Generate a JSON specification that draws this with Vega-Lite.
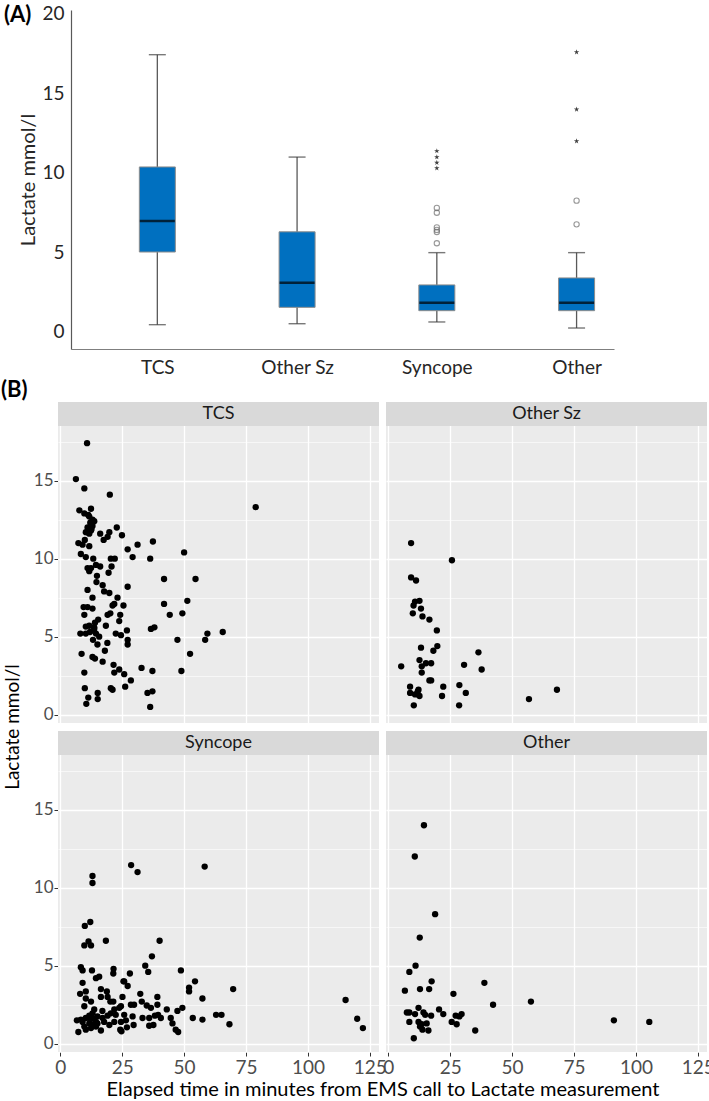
{
  "$schema": "https://vega.github.io/schema/vega-lite/v6.json",
  "padding": {"left": 0, "top": 3, "right": 0, "bottom": 0},
  "config": {"font": "Lato", "view": {"stroke": null}},
  "spacing": 2,
  "datasets": {
    "box": [
      {"pos": 1, "lo": 0.46, "q1": 5.03, "med": 6.98, "q3": 10.38, "hi": 17.44},
      {"pos": 2, "lo": 0.52, "q1": 1.55, "med": 3.1, "q3": 6.3, "hi": 11.0},
      {"pos": 3, "lo": 0.63, "q1": 1.34, "med": 1.84, "q3": 2.96, "hi": 4.99},
      {"pos": 4, "lo": 0.25, "q1": 1.34, "med": 1.84, "q3": 3.4, "hi": 4.99}
    ],
    "out": [
      {"pos": 3, "v": 5.58, "kind": "circle"}, {"pos": 3, "v": 6.29, "kind": "circle"}, {"pos": 3, "v": 6.42, "kind": "circle"},
      {"pos": 3, "v": 6.58, "kind": "circle"}, {"pos": 3, "v": 7.5, "kind": "circle"}, {"pos": 3, "v": 7.8, "kind": "circle"},
      {"pos": 3, "v": 10.3, "kind": "star"}, {"pos": 3, "v": 10.65, "kind": "star"}, {"pos": 3, "v": 11.0, "kind": "star"}, {"pos": 3, "v": 11.38, "kind": "star"},
      {"pos": 4, "v": 6.77, "kind": "circle"}, {"pos": 4, "v": 8.26, "kind": "circle"},
      {"pos": 4, "v": 12.0, "kind": "star"}, {"pos": 4, "v": 14.0, "kind": "star"}, {"pos": 4, "v": 17.6, "kind": "star"}
    ],
    "strips": [
      {"g": "TCS", "r": "r1", "c": "c1"}, {"g": "Other Sz", "r": "r1", "c": "c2"}, {"g": "Syncope", "r": "r2", "c": "c1"}, {"g": "Other", "r": "r2", "c": "c2"}
    ],
    "pts": [
      {"g":"TCS","t":10.8,"v":17.4,"lab":1},{"g":"TCS","t":6.3,"v":15.1},{"g":"TCS","t":9.7,"v":14.5},{"g":"TCS","t":20.0,"v":14.1},{"g":"TCS","t":78.9,"v":13.3},
      {"g":"TCS","t":7.7,"v":13.1},{"g":"TCS","t":9.7,"v":12.9},{"g":"TCS","t":12.4,"v":13.2},{"g":"TCS","t":11.3,"v":12.8},{"g":"TCS","t":13.0,"v":12.5},
      {"g":"TCS","t":12.1,"v":12.3},{"g":"TCS","t":11.0,"v":12.0},{"g":"TCS","t":13.0,"v":12.1},{"g":"TCS","t":22.8,"v":12.0},{"g":"TCS","t":12.4,"v":11.8},
      {"g":"TCS","t":10.3,"v":11.7},{"g":"TCS","t":11.7,"v":11.6},{"g":"TCS","t":16.1,"v":11.6},{"g":"TCS","t":17.5,"v":11.2},{"g":"TCS","t":19.8,"v":11.7},
      {"g":"TCS","t":19.1,"v":11.4},{"g":"TCS","t":24.9,"v":11.5},{"g":"TCS","t":9.9,"v":11.2},{"g":"TCS","t":7.3,"v":11.0},{"g":"TCS","t":9.0,"v":10.9},
      {"g":"TCS","t":11.7,"v":10.8},{"g":"TCS","t":31.2,"v":10.9},{"g":"TCS","t":37.4,"v":11.1},{"g":"TCS","t":27.2,"v":10.6},{"g":"TCS","t":8.3,"v":10.3},
      {"g":"TCS","t":10.3,"v":10.1},{"g":"TCS","t":29.2,"v":10.1},{"g":"TCS","t":50.0,"v":10.4},{"g":"TCS","t":13.3,"v":10.0},{"g":"TCS","t":36.3,"v":10.0},
      {"g":"TCS","t":20.4,"v":10.0},{"g":"TCS","t":22.0,"v":10.0},{"g":"TCS","t":11.0,"v":9.4},{"g":"TCS","t":12.4,"v":9.4},{"g":"TCS","t":14.4,"v":9.6},
      {"g":"TCS","t":16.1,"v":9.5},{"g":"TCS","t":20.7,"v":9.5},{"g":"TCS","t":11.7,"v":9.2},{"g":"TCS","t":19.5,"v":9.1},{"g":"TCS","t":14.8,"v":8.9},
      {"g":"TCS","t":41.9,"v":8.7},{"g":"TCS","t":54.6,"v":8.7},{"g":"TCS","t":14.6,"v":8.5},{"g":"TCS","t":17.1,"v":8.3},{"g":"TCS","t":27.2,"v":8.2},
      {"g":"TCS","t":17.7,"v":7.9},{"g":"TCS","t":19.8,"v":7.8},{"g":"TCS","t":11.0,"v":8.0},{"g":"TCS","t":13.0,"v":7.5},{"g":"TCS","t":23.1,"v":7.5},
      {"g":"TCS","t":51.3,"v":7.3},{"g":"TCS","t":41.9,"v":7.1},{"g":"TCS","t":9.4,"v":6.9},{"g":"TCS","t":11.0,"v":6.9},{"g":"TCS","t":13.0,"v":6.8},
      {"g":"TCS","t":21.1,"v":7.0},{"g":"TCS","t":25.5,"v":7.0},{"g":"TCS","t":21.8,"v":7.1},{"g":"TCS","t":9.7,"v":6.4},{"g":"TCS","t":19.1,"v":6.4},
      {"g":"TCS","t":20.2,"v":6.5},{"g":"TCS","t":24.2,"v":6.4},{"g":"TCS","t":44.2,"v":6.4},{"g":"TCS","t":49.3,"v":6.5},{"g":"TCS","t":15.3,"v":6.1},
      {"g":"TCS","t":23.8,"v":6.0},{"g":"TCS","t":10.3,"v":5.65},{"g":"TCS","t":11.7,"v":5.7},{"g":"TCS","t":13.7,"v":5.6},{"g":"TCS","t":18.4,"v":5.7},
      {"g":"TCS","t":8.1,"v":5.2},{"g":"TCS","t":10.3,"v":5.2},{"g":"TCS","t":13.7,"v":5.5},{"g":"TCS","t":14.4,"v":5.2},{"g":"TCS","t":15.7,"v":5.0},
      {"g":"TCS","t":22.4,"v":5.2},{"g":"TCS","t":24.5,"v":5.1},{"g":"TCS","t":26.9,"v":5.4},{"g":"TCS","t":36.6,"v":5.5},{"g":"TCS","t":38.0,"v":5.6},
      {"g":"TCS","t":13.2,"v":4.8},{"g":"TCS","t":27.2,"v":4.8},{"g":"TCS","t":27.2,"v":4.5},{"g":"TCS","t":15.0,"v":4.5},{"g":"TCS","t":19.0,"v":4.6},
      {"g":"TCS","t":47.3,"v":4.8},{"g":"TCS","t":58.5,"v":4.8},{"g":"TCS","t":59.4,"v":5.2},{"g":"TCS","t":65.6,"v":5.3},{"g":"TCS","t":8.6,"v":3.9},
      {"g":"TCS","t":13.0,"v":3.7},{"g":"TCS","t":14.0,"v":3.6},{"g":"TCS","t":18.0,"v":4.1},{"g":"TCS","t":17.1,"v":3.4},{"g":"TCS","t":52.4,"v":3.9},
      {"g":"TCS","t":21.5,"v":3.2},{"g":"TCS","t":21.8,"v":2.7},{"g":"TCS","t":23.8,"v":2.9},{"g":"TCS","t":25.8,"v":2.6},{"g":"TCS","t":32.8,"v":3.0},
      {"g":"TCS","t":37.2,"v":2.8},{"g":"TCS","t":48.9,"v":2.8},{"g":"TCS","t":9.7,"v":2.7},{"g":"TCS","t":28.5,"v":2.2},{"g":"TCS","t":26.2,"v":1.8},
      {"g":"TCS","t":9.9,"v":1.7},{"g":"TCS","t":20.4,"v":1.7},{"g":"TCS","t":21.1,"v":1.6},{"g":"TCS","t":15.1,"v":1.4},{"g":"TCS","t":35.2,"v":1.4},
      {"g":"TCS","t":37.2,"v":1.5},{"g":"TCS","t":11.3,"v":1.1},{"g":"TCS","t":15.1,"v":1.0},{"g":"TCS","t":10.5,"v":0.7},{"g":"TCS","t":36.3,"v":0.5},
      {"g":"TCS","t":11.7,"v":12.7},{"g":"TCS","t":13.7,"v":12.4},{"g":"TCS","t":12.6,"v":11.9},{"g":"TCS","t":10.8,"v":11.7},{"g":"TCS","t":12.0,"v":5.3},{"g":"TCS","t":14.0,"v":5.9},
      {"g":"Other Sz","t":9.2,"v":11.0,"lab":1},{"g":"Other Sz","t":25.7,"v":9.9},{"g":"Other Sz","t":9.2,"v":8.8},{"g":"Other Sz","t":11.2,"v":8.6},{"g":"Other Sz","t":10.8,"v":7.25},
      {"g":"Other Sz","t":12.6,"v":7.3},{"g":"Other Sz","t":10.2,"v":7.0},{"g":"Other Sz","t":13.2,"v":6.8},{"g":"Other Sz","t":9.9,"v":6.5},{"g":"Other Sz","t":13.8,"v":6.3},
      {"g":"Other Sz","t":16.6,"v":6.1},{"g":"Other Sz","t":19.6,"v":5.4},{"g":"Other Sz","t":13.2,"v":4.3},{"g":"Other Sz","t":18.2,"v":4.1},{"g":"Other Sz","t":19.8,"v":4.4},
      {"g":"Other Sz","t":36.4,"v":4.0},{"g":"Other Sz","t":5.2,"v":3.1},{"g":"Other Sz","t":12.6,"v":3.5},{"g":"Other Sz","t":13.5,"v":3.1},{"g":"Other Sz","t":15.2,"v":3.3},
      {"g":"Other Sz","t":17.3,"v":3.3},{"g":"Other Sz","t":30.6,"v":3.2},{"g":"Other Sz","t":37.7,"v":2.9},{"g":"Other Sz","t":13.5,"v":2.7},{"g":"Other Sz","t":16.6,"v":2.2},
      {"g":"Other Sz","t":17.3,"v":2.2},{"g":"Other Sz","t":8.8,"v":1.8},{"g":"Other Sz","t":12.2,"v":1.6},{"g":"Other Sz","t":22.2,"v":1.8},{"g":"Other Sz","t":28.7,"v":1.9},
      {"g":"Other Sz","t":8.8,"v":1.4},{"g":"Other Sz","t":10.8,"v":1.3},{"g":"Other Sz","t":12.6,"v":1.2},{"g":"Other Sz","t":11.9,"v":1.5},{"g":"Other Sz","t":21.7,"v":1.2},
      {"g":"Other Sz","t":31.3,"v":1.4},{"g":"Other Sz","t":68.1,"v":1.6},{"g":"Other Sz","t":56.8,"v":1.0},{"g":"Other Sz","t":10.3,"v":0.6},{"g":"Other Sz","t":28.6,"v":0.6},
      {"g":"Syncope","t":28.6,"v":11.45,"lab":1},{"g":"Syncope","t":31.2,"v":11.0},{"g":"Syncope","t":58.3,"v":11.35},{"g":"Syncope","t":13.0,"v":10.75},{"g":"Syncope","t":13.0,"v":10.3},
      {"g":"Syncope","t":12.1,"v":7.8},{"g":"Syncope","t":9.9,"v":7.55},{"g":"Syncope","t":11.4,"v":6.55},{"g":"Syncope","t":9.7,"v":6.3},{"g":"Syncope","t":12.4,"v":6.3},
      {"g":"Syncope","t":18.4,"v":6.6},{"g":"Syncope","t":40.1,"v":6.6},{"g":"Syncope","t":37.0,"v":5.6},{"g":"Syncope","t":34.3,"v":5.0},{"g":"Syncope","t":35.5,"v":4.6},
      {"g":"Syncope","t":48.7,"v":4.7},{"g":"Syncope","t":8.3,"v":4.9},{"g":"Syncope","t":9.0,"v":4.7},{"g":"Syncope","t":12.8,"v":4.7},{"g":"Syncope","t":9.0,"v":3.9},
      {"g":"Syncope","t":14.4,"v":4.2},{"g":"Syncope","t":15.7,"v":4.3},{"g":"Syncope","t":21.5,"v":4.8},{"g":"Syncope","t":21.4,"v":4.5},{"g":"Syncope","t":25.8,"v":4.0},
      {"g":"Syncope","t":28.1,"v":4.5},{"g":"Syncope","t":27.2,"v":3.7},{"g":"Syncope","t":25.5,"v":4.0},{"g":"Syncope","t":32.3,"v":3.2},{"g":"Syncope","t":39.2,"v":3.0},
      {"g":"Syncope","t":39.2,"v":2.5},{"g":"Syncope","t":52.0,"v":3.6},{"g":"Syncope","t":52.0,"v":3.35},{"g":"Syncope","t":54.4,"v":4.0},{"g":"Syncope","t":57.4,"v":2.9},
      {"g":"Syncope","t":69.8,"v":3.5},{"g":"Syncope","t":115.2,"v":2.8},{"g":"Syncope","t":119.9,"v":1.6},{"g":"Syncope","t":122.2,"v":1.0},{"g":"Syncope","t":8.0,"v":3.2},
      {"g":"Syncope","t":10.3,"v":3.35},{"g":"Syncope","t":16.4,"v":3.5},{"g":"Syncope","t":18.8,"v":3.35},{"g":"Syncope","t":16.4,"v":3.0},{"g":"Syncope","t":19.1,"v":3.0},
      {"g":"Syncope","t":20.2,"v":2.7},{"g":"Syncope","t":21.4,"v":2.7},{"g":"Syncope","t":25.1,"v":3.0},{"g":"Syncope","t":10.3,"v":2.9},{"g":"Syncope","t":9.7,"v":2.4},
      {"g":"Syncope","t":12.4,"v":2.7},{"g":"Syncope","t":24.5,"v":2.4},{"g":"Syncope","t":28.5,"v":2.5},{"g":"Syncope","t":29.8,"v":2.5},{"g":"Syncope","t":32.9,"v":2.7},
      {"g":"Syncope","t":34.9,"v":2.45},{"g":"Syncope","t":36.6,"v":2.3},{"g":"Syncope","t":43.0,"v":2.2},{"g":"Syncope","t":47.3,"v":2.1},{"g":"Syncope","t":49.3,"v":2.3},
      {"g":"Syncope","t":13.7,"v":2.2},{"g":"Syncope","t":17.0,"v":2.1},{"g":"Syncope","t":21.8,"v":2.2},{"g":"Syncope","t":23.8,"v":2.3},{"g":"Syncope","t":25.8,"v":1.85},
      {"g":"Syncope","t":6.7,"v":1.5},{"g":"Syncope","t":8.3,"v":1.55},{"g":"Syncope","t":10.3,"v":1.65},{"g":"Syncope","t":11.7,"v":1.8},{"g":"Syncope","t":13.0,"v":1.95},
      {"g":"Syncope","t":13.7,"v":1.6},{"g":"Syncope","t":15.0,"v":1.75},{"g":"Syncope","t":17.1,"v":1.65},{"g":"Syncope","t":19.1,"v":1.8},{"g":"Syncope","t":20.4,"v":1.95},
      {"g":"Syncope","t":22.4,"v":1.85},{"g":"Syncope","t":24.5,"v":1.4},{"g":"Syncope","t":26.5,"v":1.5},{"g":"Syncope","t":29.2,"v":1.75},{"g":"Syncope","t":33.2,"v":1.65},
      {"g":"Syncope","t":35.9,"v":1.65},{"g":"Syncope","t":38.2,"v":1.8},{"g":"Syncope","t":39.5,"v":1.85},{"g":"Syncope","t":40.6,"v":1.65},{"g":"Syncope","t":44.6,"v":1.65},
      {"g":"Syncope","t":45.3,"v":1.3},{"g":"Syncope","t":46.6,"v":0.9},{"g":"Syncope","t":47.6,"v":0.75},{"g":"Syncope","t":53.5,"v":1.65},{"g":"Syncope","t":57.4,"v":1.55},
      {"g":"Syncope","t":62.9,"v":1.85},{"g":"Syncope","t":65.1,"v":1.85},{"g":"Syncope","t":68.3,"v":1.25},{"g":"Syncope","t":7.3,"v":0.75},{"g":"Syncope","t":10.3,"v":0.9},
      {"g":"Syncope","t":12.4,"v":1.0},{"g":"Syncope","t":14.4,"v":1.1},{"g":"Syncope","t":16.4,"v":0.85},{"g":"Syncope","t":19.8,"v":1.2},{"g":"Syncope","t":21.8,"v":1.4},
      {"g":"Syncope","t":24.2,"v":0.9},{"g":"Syncope","t":24.7,"v":0.8},{"g":"Syncope","t":26.9,"v":1.05},{"g":"Syncope","t":29.6,"v":1.2},{"g":"Syncope","t":35.9,"v":1.15},
      {"g":"Syncope","t":37.6,"v":1.2},{"g":"Syncope","t":11.7,"v":1.3},{"g":"Syncope","t":13.0,"v":1.2},{"g":"Syncope","t":15.0,"v":1.3},{"g":"Syncope","t":17.7,"v":1.4},
      {"g":"Syncope","t":9.7,"v":1.1},{"g":"Syncope","t":12.1,"v":1.55},{"g":"Syncope","t":14.4,"v":1.4},{"g":"Syncope","t":9.0,"v":1.4},
      {"g":"Other","t":14.4,"v":14.0,"lab":1},{"g":"Other","t":10.7,"v":12.0},{"g":"Other","t":18.9,"v":8.3},{"g":"Other","t":12.7,"v":6.8},{"g":"Other","t":11.0,"v":5.0},
      {"g":"Other","t":8.5,"v":4.6},{"g":"Other","t":17.5,"v":4.0},{"g":"Other","t":38.8,"v":3.9},{"g":"Other","t":6.7,"v":3.4},{"g":"Other","t":12.8,"v":3.5},
      {"g":"Other","t":16.5,"v":3.5},{"g":"Other","t":26.3,"v":3.2},{"g":"Other","t":42.3,"v":2.5},{"g":"Other","t":57.6,"v":2.7},{"g":"Other","t":91.1,"v":1.5},
      {"g":"Other","t":105.4,"v":1.4},{"g":"Other","t":7.5,"v":2.0},{"g":"Other","t":8.5,"v":2.0},{"g":"Other","t":10.8,"v":1.9},{"g":"Other","t":12.2,"v":2.3},
      {"g":"Other","t":14.2,"v":2.0},{"g":"Other","t":14.9,"v":1.85},{"g":"Other","t":17.3,"v":1.8},{"g":"Other","t":20.5,"v":2.2},{"g":"Other","t":22.2,"v":1.9},
      {"g":"Other","t":27.2,"v":1.8},{"g":"Other","t":28.7,"v":1.75},{"g":"Other","t":29.6,"v":1.9},{"g":"Other","t":8.5,"v":1.4},{"g":"Other","t":12.2,"v":1.4},
      {"g":"Other","t":13.5,"v":1.25},{"g":"Other","t":15.5,"v":1.3},{"g":"Other","t":12.8,"v":1.1},{"g":"Other","t":13.8,"v":0.9},{"g":"Other","t":16.2,"v":0.85},
      {"g":"Other","t":25.6,"v":1.4},{"g":"Other","t":27.6,"v":1.25},{"g":"Other","t":35.1,"v":0.85},{"g":"Other","t":10.3,"v":0.35}
    ]
  },
  "vconcat": [
    {
      "title": {"text": "(A)", "anchor": "start", "frame": "bounds", "fontSize": 22, "fontWeight": "bold", "font": "Lato", "color": "#000000", "offset": 0, "dx": -15, "dy": 22},
      "width": 556,
      "height": 339,
      "view": {"stroke": null},
      "encoding": {
        "x": {"field": "pos", "type": "quantitative",
          "scale": {"domain": [0.325, 4.232], "nice": false, "zero": false},
          "axis": {"values": [1, 2, 3, 4], "labelExpr": "['', 'TCS', 'Other Sz', 'Syncope', 'Other'][datum.value]", "ticks": false, "grid": false, "domainColor": "#7F7F7F", "domainWidth": 1.2, "domainDash": [0, 13, 700], "labelFontSize": 19, "labelColor": "#262626", "labelPadding": 9, "labelFlush": false, "labelOverlap": false, "title": null}
        }
      },
      "layer": [
        {
          "data": {"name": "box"},
          "mark": {"type": "rule", "color": "#595959", "strokeWidth": 1.3},
          "encoding": {
            "y": {"field": "lo", "type": "quantitative",
              "scale": {"domain": [-1.07, 20.25], "nice": false, "zero": false},
              "axis": {"values": [0, 5, 10, 15, 20], "offset": -13, "minExtent": 0, "ticks": false, "grid": false, "domainColor": "#595959", "domainWidth": 1.2, "labelFontSize": 19, "labelColor": "#262626", "labelPadding": 7, "title": "Lactate mmol/l", "titleFontSize": 20, "titleFontWeight": "normal", "titleColor": "#262626", "titlePadding": 3}
            },
            "y2": {"field": "hi"}
          }
        },
        {
          "data": {"name": "box"},
          "mark": {"type": "tick", "orient": "horizontal", "color": "#404040", "size": 17, "thickness": 1.4},
          "encoding": {"y": {"field": "lo", "type": "quantitative"}}
        },
        {
          "data": {"name": "box"},
          "mark": {"type": "tick", "orient": "horizontal", "color": "#404040", "size": 17, "thickness": 1.4},
          "encoding": {"y": {"field": "hi", "type": "quantitative"}}
        },
        {
          "data": {"name": "box"},
          "mark": {"type": "bar", "width": 36, "color": "#0070C0", "stroke": "#8C8C8C", "strokeWidth": 1},
          "encoding": {"y": {"field": "q1", "type": "quantitative"}, "y2": {"field": "q3"}}
        },
        {
          "data": {"name": "box"},
          "mark": {"type": "tick", "orient": "horizontal", "color": "#000000", "size": 35, "thickness": 2.5},
          "encoding": {"y": {"field": "med", "type": "quantitative"}}
        },
        {
          "data": {"name": "out"},
          "transform": [{"filter": "datum.kind === 'circle'"}],
          "mark": {"type": "point", "shape": "circle", "filled": false, "color": "#6E6E6E", "size": 28, "strokeWidth": 1.1},
          "encoding": {"y": {"field": "v", "type": "quantitative"}}
        },
        {
          "data": {"name": "out"},
          "transform": [{"filter": "datum.kind === 'star'"}],
          "mark": {"type": "point", "shape": "M0,-1L0.22,-0.31L0.95,-0.31L0.36,0.12L0.59,0.81L0,0.38L-0.59,0.81L-0.36,0.12L-0.95,-0.31L-0.22,-0.31Z", "filled": true, "color": "#404040", "size": 32, "opacity": 1},
          "encoding": {"y": {"field": "v", "type": "quantitative"}}
        }
      ]
    },
    {
      "title": {"text": "(B)", "anchor": "start", "frame": "bounds", "fontSize": 22, "fontWeight": "bold", "font": "Lato", "color": "#000000", "offset": 0, "dx": -3},
      "data": {"name": "pts"},
      "transform": [
        {"lookup": "g", "from": {"data": {"name": "strips"}, "key": "g", "fields": ["r", "c"]}}
      ],
      "facet": {
        "row": {"field": "r", "type": "nominal", "header": {"title": "Lactate mmol/l", "labels": false, "labelPadding": 0, "titleFontSize": 19, "titleFontWeight": "normal", "titleColor": "#000000", "titlePadding": 0}},
        "column": {"field": "c", "type": "nominal", "header": {"title": "Elapsed time in minutes from EMS call to Lactate measurement", "titleOrient": "bottom", "labels": false, "labelPadding": 0, "titleFontSize": 20, "titleFontWeight": "normal", "titleColor": "#000000", "titlePadding": -7}}
      },
      "spacing": {"row": 8, "column": 7},
      "spec": {
        "width": 321,
        "height": 321,
        "view": {"fill": "#EBEBEB", "stroke": null},
        "layer": [
          {
            "mark": {"type": "point", "filled": true, "color": "#000000", "size": 40, "opacity": 1},
            "encoding": {
              "x": {"field": "t", "type": "quantitative",
                "scale": {"domain": [-0.93, 128.7], "nice": false, "zero": false},
                "axis": {"values": [0, 12.5, 25, 37.5, 50, 62.5, 75, 87.5, 100, 112.5, 125], "labelExpr": "datum.value % 25 === 0 ? datum.label : ''", "labelFlush": false, "labelOverlap": false, "domain": false, "grid": true, "gridColor": "#FFFFFF", "gridWidth": {"condition": {"test": "datum.value % 25 === 0", "value": 1.3}, "value": 0.6}, "tickColor": "#333333", "tickSize": 4, "tickOpacity": {"condition": {"test": "datum.value % 25 !== 0", "value": 0}, "value": 1}, "labelFontSize": 19, "labelColor": "#4D4D4D", "labelPadding": 2, "title": null}
              },
              "y": {"field": "v", "type": "quantitative",
                "scale": {"domain": [-0.53, 20.04], "nice": false, "zero": false},
                "axis": {"values": [0, 2.5, 5, 7.5, 10, 12.5, 15, 17.5], "labelExpr": "datum.value % 5 === 0 ? datum.label : ''", "labelOverlap": false, "minExtent": 0, "domain": false, "grid": true, "gridColor": "#FFFFFF", "gridWidth": {"condition": {"test": "datum.value % 5 === 0", "value": 1.3}, "value": 0.6}, "tickColor": "#333333", "tickSize": 4, "tickOpacity": {"condition": {"test": "datum.value % 5 !== 0", "value": 0}, "value": 1}, "labelFontSize": 17, "labelColor": "#4D4D4D", "labelPadding": 1, "title": null}
              }
            }
          },
          {
            "transform": [{"filter": "datum.lab === 1"}],
            "mark": {"type": "rect", "fill": "#D9D9D9", "color": "#D9D9D9"},
            "encoding": {"x": {"datum": -0.93, "type": "quantitative"}, "x2": {"datum": 128.7}, "y": {"datum": 18.5, "type": "quantitative"}, "y2": {"datum": 20.04}}
          },
          {
            "transform": [{"filter": "datum.lab === 1"}],
            "mark": {"type": "text", "fontSize": 18, "color": "#1A1A1A", "baseline": "middle", "align": "center"},
            "encoding": {"x": {"datum": 63.9, "type": "quantitative"}, "y": {"datum": 19.27, "type": "quantitative"}, "text": {"field": "g", "type": "nominal"}}
          }
        ]
      }
    }
  ]
}
